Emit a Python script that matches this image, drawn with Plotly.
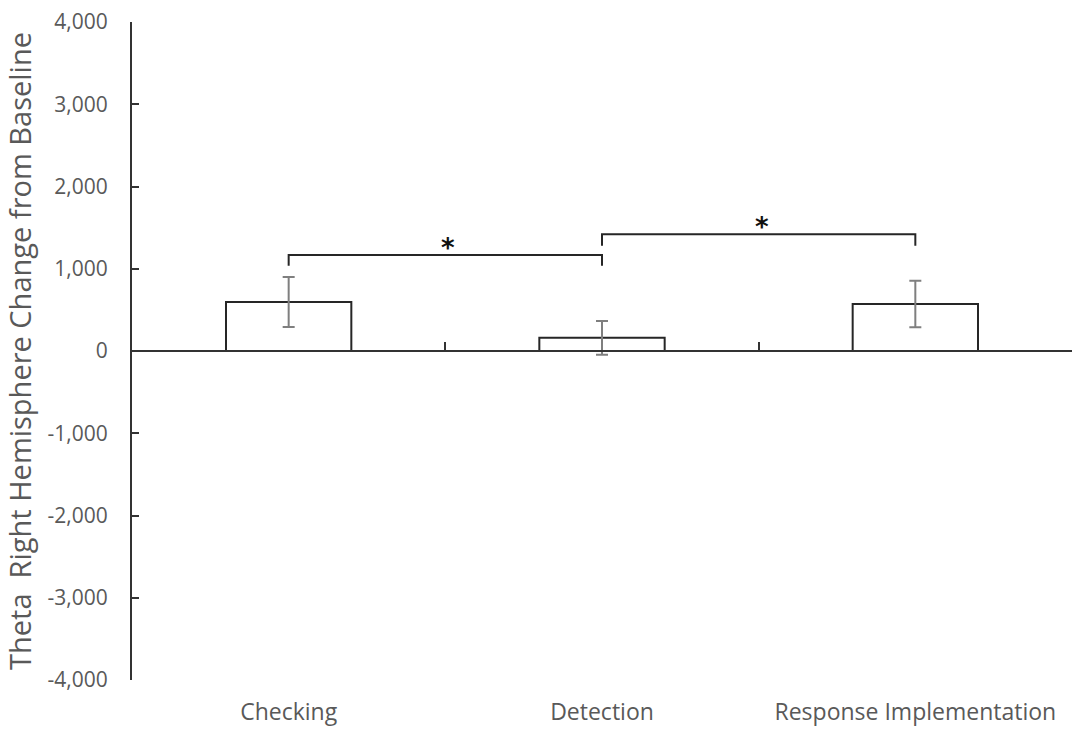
import plotly.graph_objects as go

categories = ["Checking", "Detection", "Response Implementation"]
means = [595, 160, 572]
errors = [304, 205, 282]

# significance comparisons: (left category index, right category index, bracket height, label)
comp_left = [0, 1]
comp_right = [1, 2]
comp_height = [1167, 1419]
comp_drop = [130, 140]
comp_label = ["*", "*"]

y_ticks = [-4000, -3000, -2000, -1000, 0, 1000, 2000, 3000, 4000]
y_ticktext = [f"{v:,}" for v in y_ticks]

TEXT = "#595959"
AX = "#333333"
FONT = "Open Sans"

fig = go.Figure()
fig.add_trace(go.Bar(
    x=categories, y=means, width=0.4,
    marker=dict(color="white", line=dict(color="#262626", width=2)),
    error_y=dict(type="data", array=errors, visible=True, color="#7f7f7f",
                 thickness=2, width=6),
    showlegend=False,
))

for l, r, h, d in zip(comp_left, comp_right, comp_height, comp_drop):
    fig.add_trace(go.Scatter(
        x=[categories[l], categories[l], categories[r], categories[r]],
        y=[h - d, h, h, h - d], mode="lines",
        line=dict(color="#262626", width=2), showlegend=False, hoverinfo="skip",
    ))

for l, r, h, t in zip(comp_left, comp_right, comp_height, comp_label):
    fig.add_annotation(x=(l + r) / 2, y=h, text="<b>" + t + "</b>", showarrow=False,
                       yanchor="bottom", yshift=-10, xshift=3,
                       font=dict(family="DejaVu Sans", size=26, color="#111111"))

fig.update_layout(
    width=1072, height=729,
    margin=dict(l=132, r=0, t=22, b=49),
    plot_bgcolor="white", paper_bgcolor="white",
    font=dict(family=FONT, color=TEXT),
    xaxis=dict(type="category", categoryarray=categories, range=[-0.5, 2.5],
               anchor="free", position=0.5, showline=True, linecolor=AX,
               linewidth=2, ticks="inside", tickson="boundaries", ticklen=8,
               tickwidth=2, tickcolor=AX, showticklabels=False, showgrid=False,
               zeroline=False, automargin=False),
    xaxis2=dict(overlaying="x", anchor="y", side="bottom", type="linear",
                range=[-0.5, 2.5], tickmode="array", tickvals=[0, 1, 2],
                ticktext=categories, showline=False, ticks="", showgrid=False,
                zeroline=False, automargin=False, ticklabelstandoff=16,
                tickfont=dict(family=FONT, size=23, color=TEXT)),
    yaxis=dict(range=[-4000, 4000], tickmode="array", tickvals=y_ticks,
               ticktext=y_ticktext, showline=True, linecolor=AX, linewidth=2,
               ticks="inside", ticklen=7, tickwidth=2, tickcolor=AX,
               showgrid=False, zeroline=False, ticklabelstandoff=18,
               automargin=False,
               tickfont=dict(family=FONT, size=21, color=TEXT),
               title=dict(text="Theta  Right Hemisphere Change from Baseline",
                          font=dict(family=FONT, size=29, color=TEXT), standoff=9)),
)
fig.add_trace(go.Scatter(x=[0], y=[None], xaxis="x2", showlegend=False, hoverinfo="skip"))

fig.write_html("out.html", config={"displayModeBar": False},
               post_script="document.body.style.margin='0';document.body.style.overflow='hidden';")
